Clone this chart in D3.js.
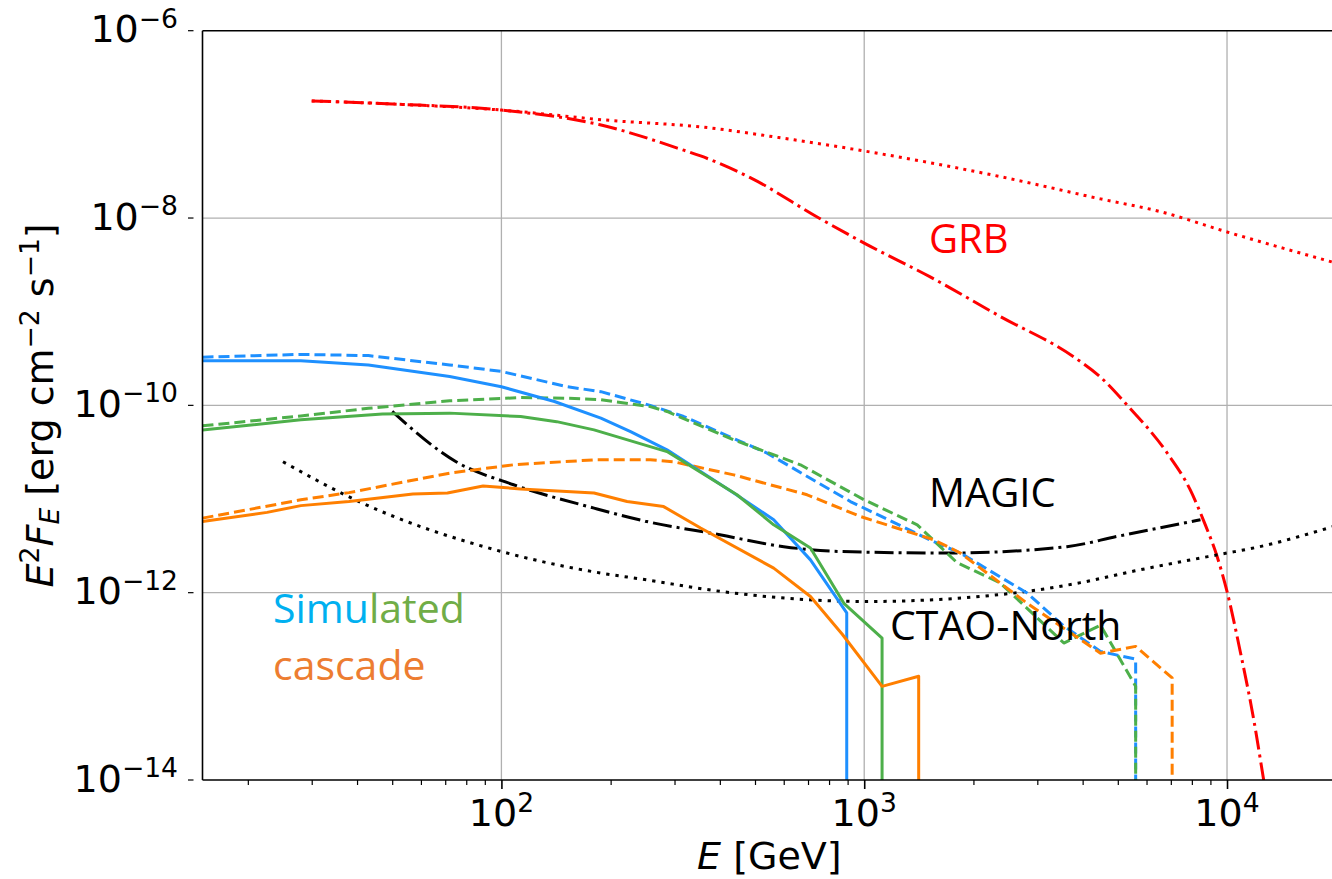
<!DOCTYPE html>
<html>
<head>
<meta charset="utf-8">
<script src="https://cdn.jsdelivr.net/npm/d3@7"></script>
<style>
  html, body { margin: 0; padding: 0; background: #fff; }
  svg { display: block; }
</style>
</head>
<body>
<svg id="chart" width="1332" height="879"></svg>
<script>
// ---------------- DATA ----------------
const xTicks = [100, 1000, 10000];
const xTickExp = ["2", "3", "4"];
const yTicks = [1e-6, 1e-8, 1e-10, 1e-12, 1e-14];
const yTickExp = ["\u22126", "\u22128", "\u221210", "\u221212", "\u221214"];

// GRB intrinsic (red dotted)
const grbIntrinsic = [[30,1.78e-7],[50,1.65e-7],[100,1.42e-7],[200,1.1e-7],[354,9.4e-8],[600,7.1e-8],
  [1000,5.2e-8],[2370,2.77e-8],[4480,1.6e-8],[6550,1.17e-8],[10000,7.1e-9],[20000,3.3e-9]];
// GRB attenuated (red dash-dot)
const grbAttenuated = [[30,1.78e-7],[50,1.65e-7],[100,1.42e-7],[187,9.9e-8],[318,5.3e-8],[354,4.6e-8],
  [485,2.7e-8],[750,1e-8],[1000,5.4e-9],[1520,2.35e-9],[2370,8.9e-10],[3776,3.3e-10],[4480,2.0e-10],
  [5310,1e-10],[6840,3.1e-11],[7920,1.25e-11],[8630,5.8e-12],[9400,2.4e-12],[10000,1.03e-12],
  [10890,2.3e-13],[11850,4.4e-14],[12620,1e-14],[13000,5e-15]];
// MAGIC sensitivity (black dash-dot)
const magic = [[50,8.6e-11],[75,2.5e-11],[108,1.42e-11],[180,8.0e-12],[249,5.8e-12],[400,4.15e-12],
  [600,3.1e-12],[860,2.75e-12],[1730,2.65e-12],[3620,3.1e-12],[5000,4.0e-12],[8450,6.0e-12]];
// CTAO-North sensitivity (black dotted)
const ctaoNorth = [[25,2.5e-11],[40,9.6e-12],[100,2.75e-12],[188,1.62e-12],[242,1.4e-12],[437,9.9e-13],
  [1017,8.05e-13],[2640,1.0e-12],[3950,1.28e-12],[5540,1.7e-12],[10000,2.65e-12],[11600,2.95e-12],[20000,5.2e-12]];

// Simulated cascades
const blueSolid = [[15,2.99e-10],[28,2.99e-10],[43,2.7e-10],[72,2.03e-10],[100,1.58e-10],[140,1.1e-10],
  [188,7.3e-11],[227,5.25e-11],[286,3.35e-11],[437,1.16e-11],[563,6.0e-12],[711,2.24e-12],[895,6.1e-13],[895,1e-16]];
const blueDashed = [[15,3.27e-10],[28,3.5e-10],[43,3.4e-10],[72,2.7e-10],[100,2.3e-10],[152,1.58e-10],
  [188,1.4e-10],[257,1e-10],[318,7.6e-11],[540,3.09e-11],[916,9.4e-12],[1555,3.5e-12],[1841,2.65e-12],
  [2812,9.9e-13],[3550,4.4e-13],[4480,2.36e-13],[5600,1.95e-13],[5600,1e-16]];
const greenSolid = [[15,5.47e-11],[28,7.0e-11],[47,8.1e-11],[72,8.26e-11],[113,7.6e-11],[142,6.7e-11],
  [180,5.47e-11],[257,3.63e-11],[286,3.21e-11],[446,1.11e-11],[563,5.3e-12],[711,3.0e-12],[879,7.7e-13],
  [1120,3.27e-13],[1120,1e-16]];
const greenDashed = [[15,6.04e-11],[28,7.7e-11],[43,9.3e-11],[72,1.12e-10],[113,1.21e-10],[152,1.19e-10],
  [188,1.15e-10],[257,9.7e-11],[286,8.6e-11],[437,4.28e-11],[667,2.32e-11],[1000,9.8e-12],[1400,5.3e-12],
  [1800,2.1e-12],[2370,1.27e-12],[3550,2.9e-13],[4480,4.5e-13],[5600,1.0e-13],[5600,1e-16]];
const orangeSolid = [[15,5.76e-12],[22.6,7.2e-12],[28,8.5e-12],[38,9.4e-12],[57,1.13e-11],[71,1.16e-11],
  [89,1.38e-11],[113,1.28e-11],[180,1.16e-11],[222,9.4e-12],[280,8.3e-12],[354,4.9e-12],[563,1.83e-12],
  [711,9.1e-13],[870,3.6e-13],[1120,1.0e-13],[1413,1.28e-13],[1413,1e-16]];
const orangeDashed = [[15,6.25e-12],[28,9.8e-12],[38,1.17e-11],[72,1.89e-11],[108,2.32e-11],[180,2.62e-11],
  [257,2.62e-11],[298,2.5e-11],[437,1.81e-11],[696,1.11e-11],[977,6.5e-12],[1555,3.67e-12],[1841,2.65e-12],
  [2812,7.7e-13],[4480,2.26e-13],[5600,2.67e-13],[7060,1.23e-13],[7060,1e-16]];

const series = [
  {data: grbIntrinsic,  color: "#ff0000", dash: "3,5.2", smooth: true},
  {data: grbAttenuated, color: "#ff0000", dash: "19,5,3,5", smooth: true},
  {data: magic,         color: "#000000", dash: "19,5,3,5", smooth: true},
  {data: ctaoNorth,     color: "#000000", dash: "3.3,6", smooth: true},
  {data: blueDashed,    color: "#1e90ff", dash: "11,5"},
  {data: greenDashed,   color: "#4daf4a", dash: "11,5"},
  {data: orangeDashed,  color: "#ff7f00", dash: "11,5"},
  {data: blueSolid,     color: "#1e90ff", dash: null},
  {data: greenSolid,    color: "#4daf4a", dash: null},
  {data: orangeSolid,   color: "#ff7f00", dash: null}
];

// ---------------- LAYOUT ----------------
const L = 202.5, T = 30.7, B = 780;
const decadeX = 362.8;
const R = L + decadeX * Math.log10(20000 / 15);

const x = d3.scaleLog().domain([15, 20000]).range([L, R]);
const y = d3.scaleLog().domain([1e-14, 1e-6]).range([B, T]);

const svg = d3.select("#chart");

svg.append("defs").append("clipPath").attr("id", "plotclip")
  .append("rect").attr("x", L).attr("y", T).attr("width", R - L).attr("height", B - T);

// grid
const grid = svg.append("g");
xTicks.forEach(v => {
  grid.append("line").attr("x1", x(v)).attr("x2", x(v)).attr("y1", T).attr("y2", B)
    .attr("stroke", "#b0b0b0").attr("stroke-width", 1.3);
});
yTicks.slice(1, -1).forEach(v => {
  grid.append("line").attr("x1", L).attr("x2", R).attr("y1", y(v)).attr("y2", y(v))
    .attr("stroke", "#b0b0b0").attr("stroke-width", 1.3);
});

// curves
const lineStraight = d3.line().x(d => x(d[0])).y(d => y(d[1]));
const lineSmooth = d3.line().x(d => x(d[0])).y(d => y(d[1])).curve(d3.curveMonotoneX);
const curves = svg.append("g").attr("clip-path", "url(#plotclip)");
series.forEach(s => {
  const gen = s.smooth ? lineSmooth : lineStraight;
  const p = curves.append("path").attr("d", gen(s.data)).attr("fill", "none")
    .attr("stroke", s.color).attr("stroke-width", 3).attr("stroke-linejoin", "round")
    .attr("stroke-linecap", "butt");
  if (s.dash) p.attr("stroke-dasharray", s.dash);
});

// spines
svg.append("line").attr("x1", L).attr("x2", L).attr("y1", T).attr("y2", B).attr("stroke", "#000").attr("stroke-width", 1.6);
svg.append("line").attr("x1", L).attr("x2", R).attr("y1", T).attr("y2", T).attr("stroke", "#000").attr("stroke-width", 1.6);
svg.append("line").attr("x1", L).attr("x2", R).attr("y1", B).attr("y2", B).attr("stroke", "#000").attr("stroke-width", 1.6);

// x axis ticks via d3 axis (major + minor)
const minorVals = [];
[10, 100, 1000, 10000].forEach(d => { for (let k = 2; k <= 9; k++) { const v = d * k; if (v >= 15 && v <= 20000) minorVals.push(v); } });
const xMinorAxis = d3.axisBottom(x).tickValues(minorVals).tickSize(5).tickFormat("");
const gxm = svg.append("g").attr("transform", `translate(0,${B})`).call(xMinorAxis);
gxm.select(".domain").remove();
gxm.selectAll("line").attr("stroke", "#000").attr("stroke-width", 1.2);

const xMajorAxis = d3.axisBottom(x).tickValues(xTicks).tickSize(9).tickFormat("");
const gx = svg.append("g").attr("transform", `translate(0,${B})`).call(xMajorAxis);
gx.select(".domain").remove();
gx.selectAll("line").attr("stroke", "#000").attr("stroke-width", 1.6);

// x tick labels
xTicks.forEach((v, i) => {
  const t = svg.append("text").attr("x", x(v)).attr("y", 826).attr("text-anchor", "middle")
    .attr("font-family", "DejaVu Sans").attr("font-size", 38).attr("fill", "#000");
  t.append("tspan").text("10");
  t.append("tspan").attr("font-size", 26.6).attr("dy", -14.5).text(xTickExp[i]);
});

// y ticks (small dashes) + labels
yTicks.forEach((v, i) => {
  svg.append("line").attr("x1", 188).attr("x2", 193.5).attr("y1", y(v)).attr("y2", y(v))
    .attr("stroke", "#000").attr("stroke-width", 1.2);
  const t = svg.append("text").attr("x", 178).attr("y", y(v) + 11.5).attr("text-anchor", "end")
    .attr("font-family", "DejaVu Sans").attr("font-size", 38).attr("fill", "#000");
  t.append("tspan").text("10");
  t.append("tspan").attr("font-size", 26.6).attr("dy", -14.5).text(yTickExp[i]);
});

// axis labels
const xl = svg.append("text").attr("x", (L + R) / 2).attr("y", 869).attr("text-anchor", "middle")
  .attr("font-family", "DejaVu Sans").attr("font-size", 38).attr("fill", "#000");
xl.append("tspan").attr("font-style", "italic").text("E");
xl.append("tspan").text(" [GeV]");

const yl = svg.append("text").attr("transform", `translate(53,${(T + B) / 2}) rotate(-90)`)
  .attr("text-anchor", "middle").attr("font-family", "DejaVu Sans").attr("font-size", 38).attr("fill", "#000");
yl.append("tspan").attr("font-style", "italic").text("E");
yl.append("tspan").attr("font-size", 26.6).attr("dy", -14.5).text("2");
yl.append("tspan").attr("font-style", "italic").attr("dy", 14.5).text("F");
yl.append("tspan").attr("font-style", "italic").attr("font-size", 26.6).attr("dy", 6).text("E");
yl.append("tspan").attr("dy", -6).text(" [erg cm");
yl.append("tspan").attr("font-size", 26.6).attr("dy", -14.5).text("\u22122");
yl.append("tspan").attr("dy", 14.5).text(" s");
yl.append("tspan").attr("font-size", 26.6).attr("dy", -14.5).text("\u22121");
yl.append("tspan").attr("dy", 14.5).text("]");

// annotations
const annFont = "Open Sans";
svg.append("text").attr("x", 929).attr("y", 253).attr("font-family", annFont).attr("font-size", 40)
  .attr("fill", "#ff0000").text("GRB");
svg.append("text").attr("x", 929).attr("y", 507).attr("font-family", annFont).attr("font-size", 40)
  .attr("fill", "#000").text("MAGIC");
svg.append("text").attr("x", 890).attr("y", 640).attr("font-family", annFont).attr("font-size", 41)
  .attr("fill", "#000").text("CTAO-North");
const sim = svg.append("text").attr("x", 273).attr("y", 623).attr("font-family", annFont).attr("font-size", 41);
sim.append("tspan").attr("fill", "#00b0f0").text("Simu");
sim.append("tspan").attr("fill", "#70ad47").text("lated");
svg.append("text").attr("x", 273).attr("y", 680).attr("font-family", annFont).attr("font-size", 41)
  .attr("fill", "#ed7d31").text("cascade");
</script>
</body>
</html>
